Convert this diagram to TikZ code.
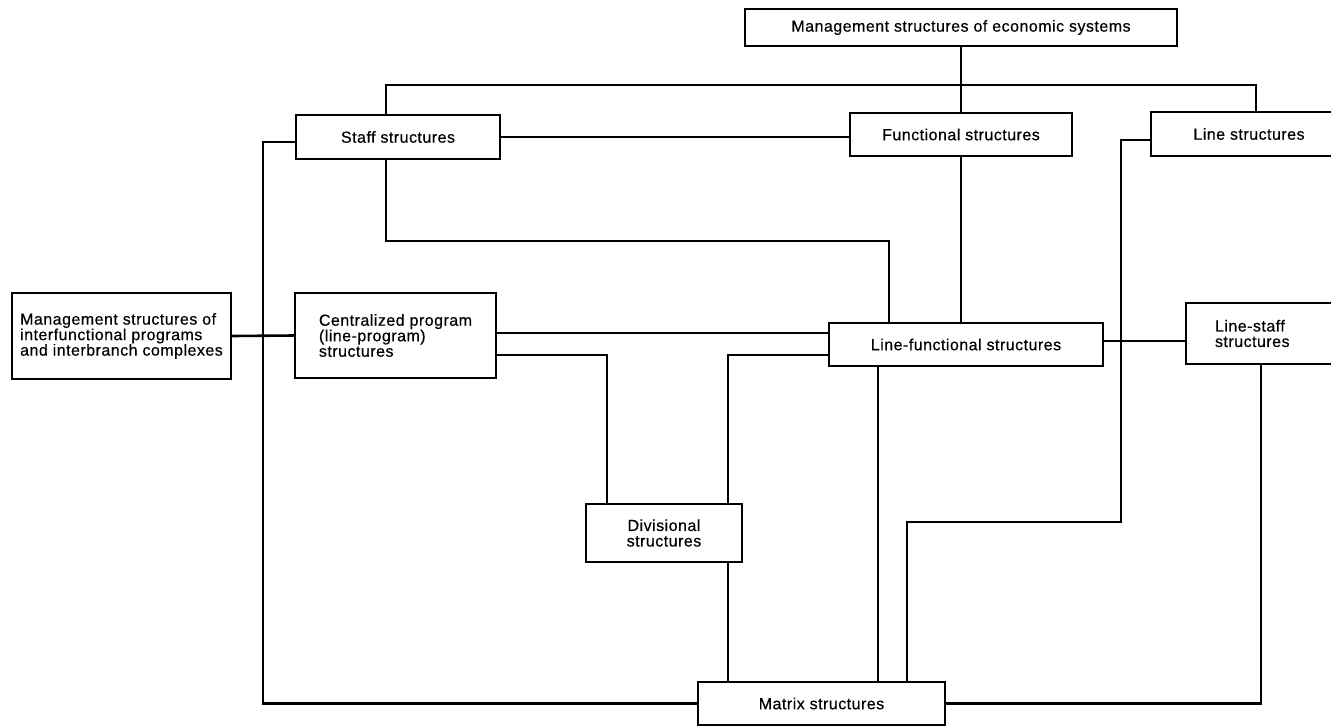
\documentclass[tikz,border=0pt]{standalone}
\usepackage{fontspec}
\setmainfont{Liberation Sans}[LetterSpace=3, FakeBold=0.4]
\begin{document}
\begin{tikzpicture}[x=1pt,y=-1pt,
  box/.style={draw, line width=1.5pt, fill=white, inner sep=0pt,
    font=\fontsize{16pt}{15.5pt}\selectfont},
  link/.style={line width=2.6pt, line join=miter}]
\useasboundingbox (0,0) rectangle (1331,726);
\clip (0,0) rectangle (1331,726);

% boxes
\node[box, minimum width=432, minimum height=37] (top) at (961,27.5)
  {Management structures of economic systems};
\node[box, minimum width=204, minimum height=44] (staff) at (398,137)
  {Staff structures};
\node[box, minimum width=222, minimum height=43] (func) at (961,134.5)
  {Functional structures};
\node[box, minimum width=196, minimum height=44] (line) at (1249,134)
  {Line structures};
\node[box, minimum width=219, minimum height=86, align=left] (mgmt) at (121.5,336)
  {Management structures of\\interfunctional programs\\and interbranch complexes};
\node[box, minimum width=201, minimum height=85, align=left] (central) at (395.5,335.5)
  {Centralized program\\(line-program)\\structures};
\node[box, minimum width=274, minimum height=43] (linefunc) at (966,344.5)
  {Line-functional structures};
\node[box, text width=120, inner xsep=29, minimum height=61, align=left] (linestaff) at (1275,333.5)
  {Line-staff\\structures};
\node[box, minimum width=156, minimum height=58, align=center] (divisional) at (664,533)
  {Divisional\\structures};
\node[box, minimum width=247, minimum height=43] (matrix) at (821.5,703.5)
  {Matrix structures};

% bend points of the connectors
\coordinate (barL) at (386,85);
\coordinate (barR) at (1256,85);
\coordinate (leftbus) at (263,400);
\coordinate (s1) at (386,241);
\coordinate (s2) at (889,241);
\coordinate (c1) at (0,333);
\coordinate (c2) at (607,355);
\coordinate (c3) at (728,355);
\coordinate (c4) at (878,0);
\coordinate (c5) at (0,341);
\coordinate (r1) at (1121,140);
\coordinate (r2) at (1121,522);
\coordinate (r3) at (907,522);
\coordinate (r4) at (1261,703.5);

% connectors
\draw[link] (top) -- (func);
\draw[link] (staff.north -| barL) -- (barL) -- (barR) -- (line.north -| barR);
\draw[link] (staff.east) -- (staff.east -| func.west);
\draw[link] ([yshift=-5pt]staff.west) -| (leftbus) |- (matrix.west);
\draw[link] (mgmt.east) -- (central.west);
\draw[link] (staff.south -| s1) -- (s1) -- (s2) -- (linefunc.north -| s2);
\draw[link] (func.south) -- (func.south |- linefunc.north);
\draw[link] (central.east |- c1) -- (linefunc.west |- c1);
\draw[link] (central.east |- c2) -- (c2) -- (divisional.north -| c2);
\draw[link] (linefunc.west |- c3) -- (c3) -- (divisional.north -| c3);
\draw[link] (divisional.south -| c3) -- (matrix.north -| c3);
\draw[link] (linefunc.south -| c4) -- (matrix.north -| c4);
\draw[link] (line.west |- r1) -- (r1) -- (r2) -- (r3) -- (matrix.north -| r3);
\draw[link] (linefunc.east |- c5) -- (linestaff.west |- c5);
\draw[link] (linestaff.south -| r4) -- (r4) -- (matrix.east |- r4);
\end{tikzpicture}
\end{document}
